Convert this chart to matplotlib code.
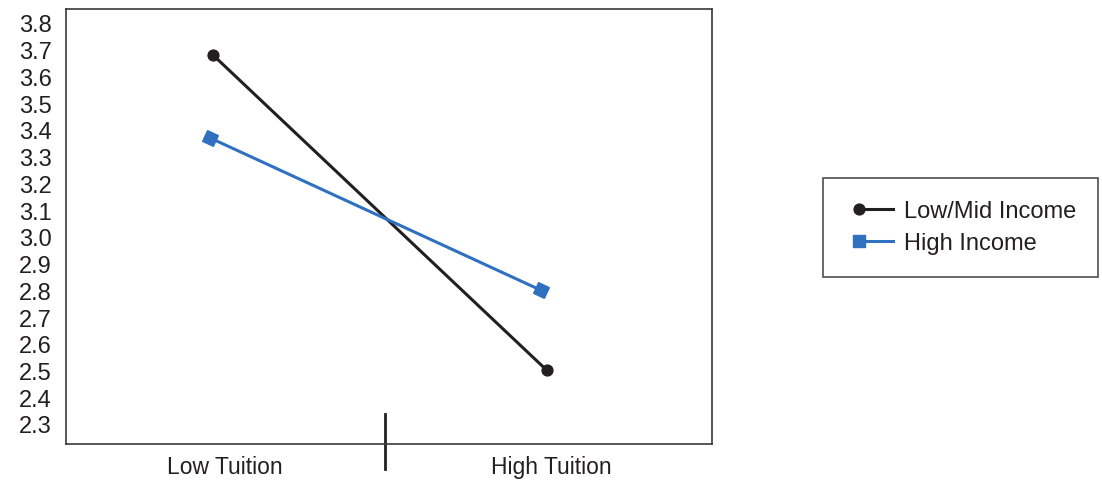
import matplotlib
matplotlib.use("Agg")
import matplotlib.pyplot as plt
from matplotlib.lines import Line2D
from matplotlib.legend_handler import HandlerLine2DCompound
import numpy as np

categories = ["Low Tuition", "High Tuition"]
series_names = ["Low/Mid Income", "High Income"]
lowmid_values = [3.68, 2.50]
high_values = [3.37, 2.80]
y_ticks = [2.3, 2.4, 2.5, 2.6, 2.7, 2.8, 2.9, 3.0, 3.1, 3.2, 3.3, 3.4, 3.5, 3.6, 3.7, 3.8]

plt.rcParams['font.family'] = ['Liberation Sans', 'DejaVu Sans']

fig = plt.figure(figsize=(11.02, 4.81), dpi=100)
ax = fig.add_axes([66/1102, 1-445/481, (712-66)/1102, (445-10)/481])

x_lowmid = [0.0, 1.0]
x_high = [-0.009, 0.982]
black = "#231f20"
blue = "#2f70c0"
text_c = "#231f20"

ax.plot(x_lowmid, lowmid_values, color=black, lw=2.2, marker='o', ms=7.8)
ax.plot(x_high, high_values, color=blue, lw=2.2, marker=(4, 0, 20), ms=12)

ax.set_xlim(-0.44, 1.494)
ax.set_ylim(2.225, 3.852)
ax.set_yticks(y_ticks)
ax.set_yticklabels([f"{v:.1f}" for v in y_ticks], fontsize=17, color=text_c)
ax.set_xticks([0.036, 1.012])
ax.set_xticklabels(categories, fontsize=16.5, color=text_c)
ax.tick_params(axis='both', length=0)
ax.tick_params(axis='x', pad=8)
ax.tick_params(axis='y', pad=10)
for s in ax.spines.values():
    s.set_color("#3a3a3a")
    s.set_linewidth(1.2)

# category divider
ax.plot([0.515, 0.515], [2.336, 2.13], color=black, lw=2, clip_on=False)


class LeftMarkerHandler(HandlerLine2DCompound):
    def get_xdata(self, legend, xdescent, ydescent, width, height, fontsize):
        start = -xdescent + 0.28 * width
        xdata = np.array([start, -xdescent + width])
        xdata_marker = np.array([start])
        return xdata, xdata_marker


h1 = Line2D([], [], color=black, lw=2.2, marker='o', ms=7.8)
h2 = Line2D([], [], color=blue, lw=2.2, marker='s', ms=8.3)

leg = fig.legend([h1, h2], series_names, loc='upper left',
                 bbox_to_anchor=(823/1102, 1-179/481),
                 fontsize=17, frameon=True, fancybox=False, handlelength=2.0,
                 borderpad=0.95, labelspacing=0.42, handletextpad=0.47,
                 borderaxespad=0, numpoints=1,
                 handler_map={Line2D: LeftMarkerHandler(numpoints=1)})
for t in leg.get_texts():
    t.set_color(text_c)
leg.get_frame().set_edgecolor(black)
leg.get_frame().set_linewidth(1.2)

fig.savefig("out.png", dpi=100)
